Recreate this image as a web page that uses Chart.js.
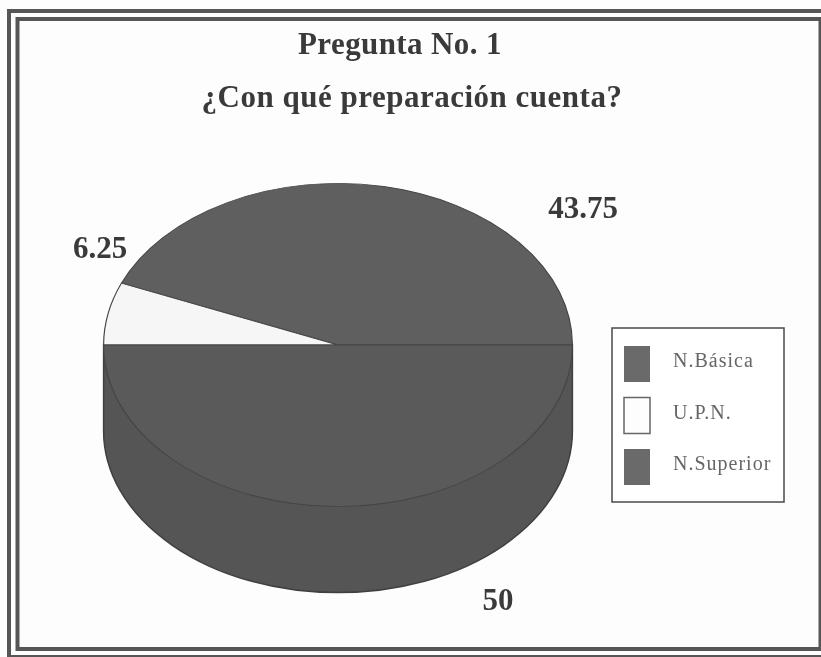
<!DOCTYPE html>
<html>
<head>
<meta charset="utf-8">
<style>
    html, body { margin: 0; padding: 0; background: #fdfdfd; }
    #wrap { position: relative; width: 821px; height: 657px; overflow: hidden; }
</style>
<script src="https://cdn.jsdelivr.net/npm/chart.js@4"></script>
</head>
<body>
<div id="wrap"><canvas id="pieChart" width="821" height="657"></canvas></div>
<script>
// Values
const categories = ['N.Básica', 'U.P.N.', 'N.Superior'];
const seriesValues = [43.75, 6.25, 50];
const valueLabels = ['43.75', '6.25', '50'];
const titleLines = ['Pregunta No. 1', '¿Con qué preparación cuenta?'];
const sliceColors = ['#5f5f5f', '#f6f6f6', '#5a5a5a'];

const SERIF = '"Liberation Serif", serif';

// Fake 3D pie: squashed top surface plus a side wall
const SQUASH = 162 / 235;
const DEPTH = 86;

const pie3d = {
    id: 'pie3d',
    beforeDatasetsDraw(chart) {
        const ctx = chart.ctx;
        const arcs = chart.getDatasetMeta(0).data;
        const cx = arcs[0].x, cy = arcs[0].y, r = arcs[0].outerRadius;

        // side wall
        ctx.save();
        ctx.beginPath();
        ctx.moveTo(cx - r, cy);
        ctx.lineTo(cx - r, cy + DEPTH);
        ctx.ellipse(cx, cy + DEPTH, r, r * SQUASH, 0, Math.PI, 0, true);
        ctx.lineTo(cx + r, cy);
        ctx.closePath();
        ctx.fillStyle = '#555555';
        ctx.fill();
        ctx.strokeStyle = '#404040';
        ctx.lineWidth = 1.5;
        ctx.stroke();
        ctx.restore();

        // top surface, using the library's own arc elements
        arcs.forEach(arc => {
            ctx.save();
            ctx.translate(cx, cy);
            ctx.scale(1, -SQUASH);
            ctx.translate(-cx, -cy);
            arc.draw(ctx);
            ctx.restore();
        });
        return false;
    },
    afterDraw(chart) {
        const ctx = chart.ctx;
        ctx.save();

        // double frame, runs off the right edge like the scan
        ctx.strokeStyle = '#565656';
        ctx.lineWidth = 4;
        ctx.strokeRect(9, 11, 830, 646);
        ctx.strokeRect(17.5, 19, 803, 630);

        // titles
        ctx.fillStyle = '#3a3a3a';
        ctx.textAlign = 'center';
        ctx.textBaseline = 'alphabetic';
        ctx.font = 'bold 31px ' + SERIF;
        ctx.letterSpacing = '0.4px';
        ctx.fillText(titleLines[0], 400, 54);
        ctx.letterSpacing = '0.5px';
        ctx.fillText(titleLines[1], 412, 107);
        ctx.letterSpacing = '0px';

        // value labels
        ctx.fillText(valueLabels[0], 583, 218);
        ctx.fillText(valueLabels[1], 100, 258);
        ctx.fillText(valueLabels[2], 498, 610);

        // legend
        ctx.strokeStyle = '#4a4a4a';
        ctx.lineWidth = 1.5;
        ctx.fillStyle = '#ffffff';
        ctx.fillRect(612, 328, 172, 174);
        ctx.strokeRect(612, 328, 172, 174);
        ctx.textAlign = 'left';
        ctx.font = '20px ' + SERIF;
        ctx.letterSpacing = '1px';
        categories.forEach((name, i) => {
            const y = 346 + i * 51.5;
            ctx.fillStyle = i === 1 ? '#fdfdfd' : '#6a6a6a';
            ctx.fillRect(624, y, 26, 36);
            if (i === 1) {
                ctx.strokeStyle = '#666666';
                ctx.strokeRect(624, y, 26, 36);
            }
            ctx.fillStyle = '#666666';
            ctx.fillText(name, 673, y + 21);
        });
        ctx.restore();
    }
};

new Chart(document.getElementById('pieChart'), {
    type: 'pie',
    data: {
        labels: categories,
        datasets: [{
            data: seriesValues,
            backgroundColor: sliceColors,
            borderColor: '#454545',
            borderWidth: 1.2
        }]
    },
    options: {
        responsive: false,
        animation: false,
        rotation: 90,
        layout: { padding: { left: 103, right: 248, top: 110, bottom: 77 } },
        plugins: {
            legend: { display: false },
            tooltip: { enabled: false }
        }
    },
    plugins: [pie3d]
});
</script>
</body>
</html>
